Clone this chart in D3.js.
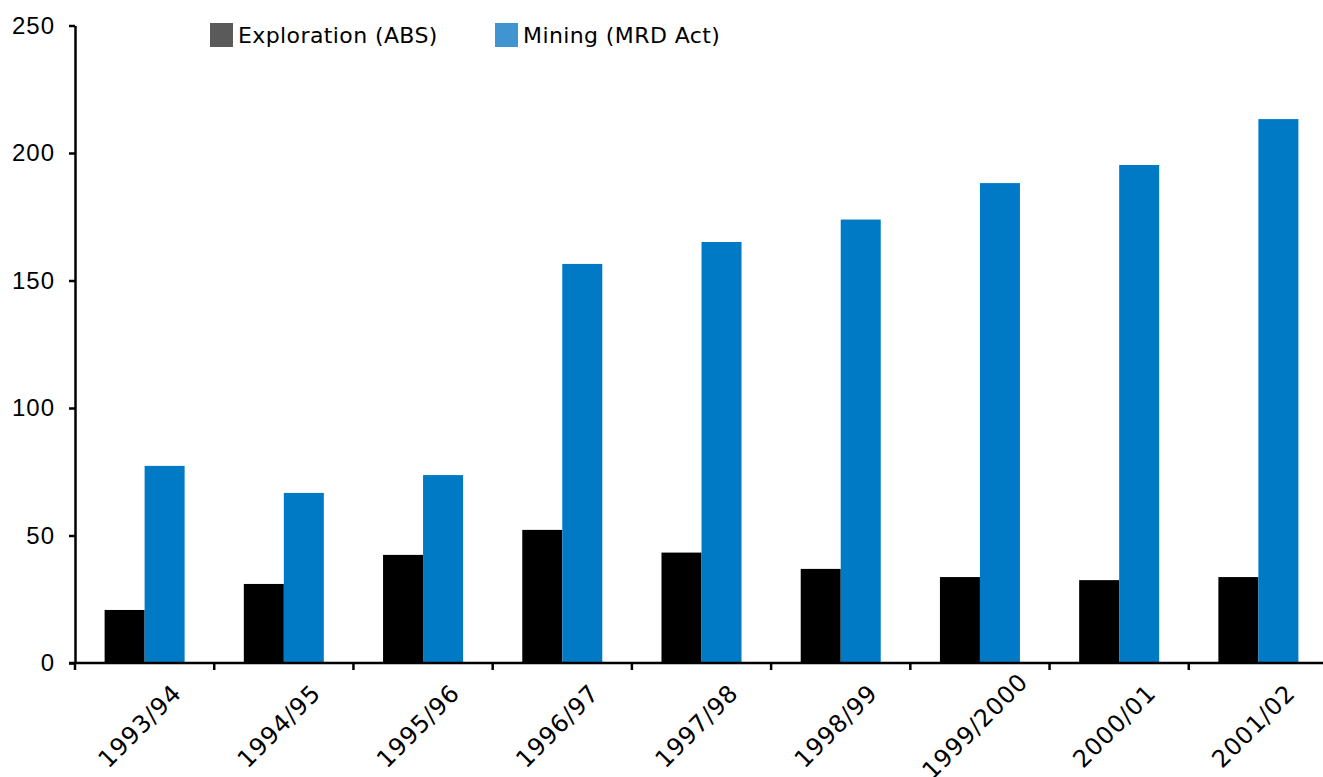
<!DOCTYPE html>
<html>
<head>
<meta charset="utf-8">
<script src="https://cdn.jsdelivr.net/npm/d3@7"></script>
<style>
  html, body { margin: 0; padding: 0; background: #fff; }
  svg { display: block; font-family: "DejaVu Sans", Verdana, sans-serif; }
  .axis path, .axis line { stroke: #000; stroke-width: 2.5; }
  .axis text { fill: #000; }
</style>
</head>
<body>
<svg id="chart" width="1323" height="777"></svg>
<script>
/* Exploration vs mining bar chart */

const years = ['1993/94', '1994/95', '1995/96', '1996/97', '1997/98', '1998/99', '1999/2000', '2000/01', '2001/02'];
const exploration = [20.8, 31.0, 42.4, 52.2, 43.3, 36.9, 33.7, 32.5, 33.7];
const mining = [77.3, 66.7, 73.7, 156.5, 165.1, 173.9, 188.2, 195.3, 213.3];
const seriesNames = ['Exploration (ABS)', 'Mining (MRD Act)'];
const yTicks = [0, 50, 100, 150, 200, 250];

const BAR_COLORS = ['#000000', '#007ac4'];
const KEY_COLORS = ['#5a5a5a', '#4095d1'];

const svg = d3.select('#chart');
const M = { left: 75, right: 1328, top: 25.5, bottom: 663 };

const x = d3.scaleBand().domain(years).range([M.left, M.right]).padding(0);
const inner = d3.scaleBand().domain([0, 1]).range([0, x.bandwidth()])
  .paddingInner(0).paddingOuter(0.74);
const y = d3.scaleLinear().domain([0, 250]).range([M.bottom, M.top]);

const rows = years.map((yr, i) => ({ yr, vals: [exploration[i], mining[i]] }));

// ── Bars ──
const grp = svg.append('g').selectAll('g').data(rows).join('g')
  .attr('transform', d => `translate(${x(d.yr)},0)`);
grp.selectAll('rect')
  .data(d => d.vals.map((v, s) => ({ v, s })))
  .join('rect')
  .attr('x', d => inner(d.s))
  .attr('width', inner.bandwidth())
  .attr('y', d => y(d.v))
  .attr('height', d => y(0) - y(d.v))
  .attr('fill', d => BAR_COLORS[d.s]);

// ── Y axis ──
const yAxis = svg.append('g').attr('class', 'axis')
  .attr('transform', `translate(${M.left},0)`)
  .call(d3.axisLeft(y).tickValues(yTicks).tickSize(6).tickSizeOuter(0).tickPadding(14));
yAxis.selectAll('text').style('font-size', '24px').style('letter-spacing', '1px');

// ── X axis: ticks at category boundaries ──
const xAxis = svg.append('g').attr('class', 'axis')
  .attr('transform', `translate(0,${M.bottom})`);
xAxis.append('line')
  .attr('x1', M.left - 6).attr('x2', 1323)
  .attr('y1', 0).attr('y2', 0);
xAxis.selectAll('.tick-b')
  .data(years).join('line')
  .attr('class', 'tick-b')
  .attr('x1', d => x(d)).attr('x2', d => x(d))
  .attr('y1', 0).attr('y2', 7);
xAxis.selectAll('.lbl')
  .data(years).join('text')
  .attr('class', 'lbl')
  .attr('text-anchor', 'middle')
  .attr('dy', '0.35em')
  .attr('transform', d => `translate(${x(d) + x.bandwidth() / 2 - 5},63) rotate(-45)`)
  .style('font-size', '24px')
  .style('letter-spacing', '0.8px')
  .text(d => d);

// ── Legend ──
const legendX = [210, 495];
const leg = svg.append('g').selectAll('g').data(seriesNames).join('g')
  .attr('transform', (d, i) => `translate(${legendX[i]},23)`);
leg.append('rect').attr('width', 23).attr('height', 24)
  .attr('fill', (d, i) => KEY_COLORS[i]);
leg.append('text').attr('x', 28).attr('y', 12).attr('dy', '0.35em')
  .style('font-size', '22px')
  .style('letter-spacing', '0.4px')
  .text(d => d);
</script>
</body>
</html>
